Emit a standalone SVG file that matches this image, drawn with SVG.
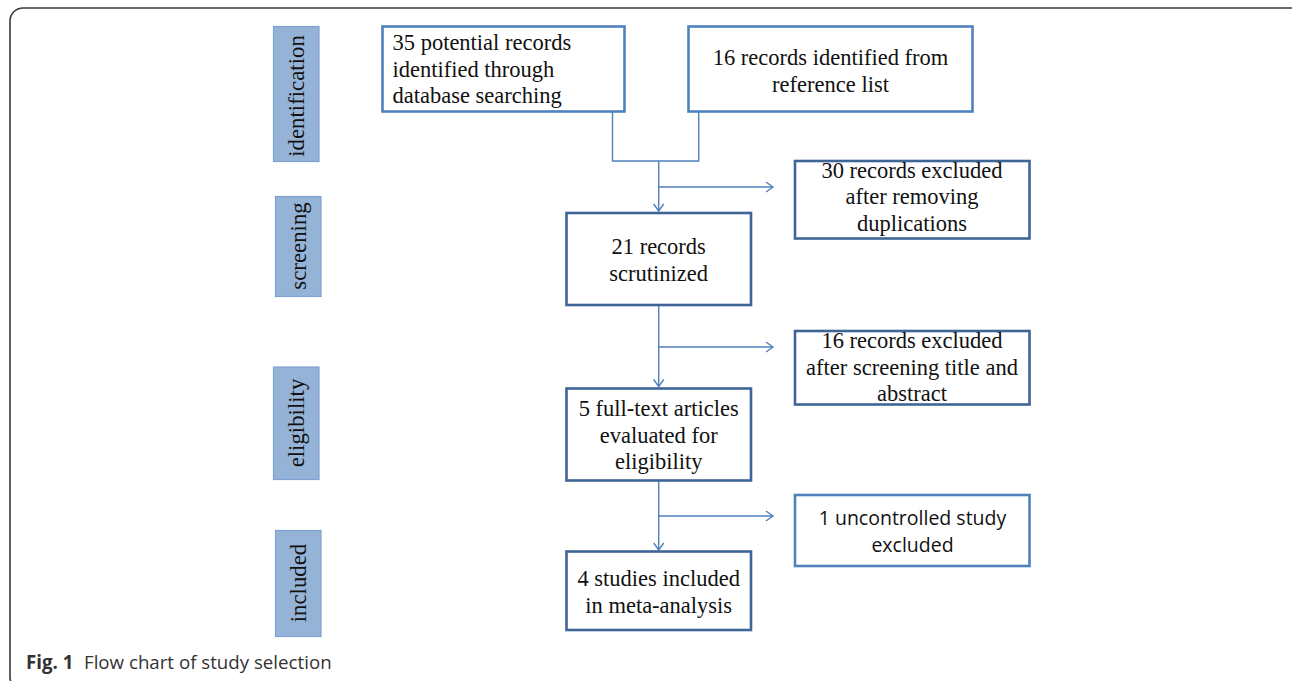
<svg xmlns="http://www.w3.org/2000/svg" width="1292" height="681" viewBox="0 0 1292 681">
<style>
.frame{fill:#fff;stroke:#3a3a3a;stroke-width:1.6}
.lab{fill:#95b3d7;stroke:#7fa2d2;stroke-width:1.2}
.labt{font-family:"Liberation Serif",serif;font-size:22.8px;fill:#111;text-anchor:middle}
.box{fill:#fff;stroke-width:2.6}
.lite{stroke:#4f81bd}
.dark{stroke:#3f6496}
.t{font-family:"Liberation Serif",serif;font-size:22.5px;fill:#111}
.c{text-anchor:middle}
.s{font-family:"Open Sans",sans-serif;font-size:19.5px;fill:#111;text-anchor:middle}
.conn{fill:none;stroke:#4f81bd;stroke-width:1.4}
.cap{font-family:"Open Sans",sans-serif;font-size:18.7px;fill:#333}
</style>
<defs>
<marker id="arr" markerUnits="userSpaceOnUse" markerWidth="16" markerHeight="16" viewBox="-10 -8 12 16" refX="0" refY="0" orient="auto">
<path d="M-7,-5 L0,0 L-7,5" fill="none" stroke="#4f81bd" stroke-width="1.4"/>
</marker>
</defs>
<rect class="frame" x="10" y="8" width="1294" height="682" rx="13"/>

<g id="lab-identification"><rect class="lab" x="273.5" y="26.5" width="45.5" height="135"/><text class="labt" transform="translate(304,96) rotate(-90)">identification</text></g>
<g id="lab-screening"><rect class="lab" x="275.5" y="196.5" width="45.5" height="100"/><text class="labt" transform="translate(306,246) rotate(-90)">screening</text></g>
<g id="lab-eligibility"><rect class="lab" x="273.5" y="367" width="45.5" height="112.5"/><text class="labt" transform="translate(304,423) rotate(-90)">eligibility</text></g>
<g id="lab-included"><rect class="lab" x="275.5" y="530.5" width="45.5" height="106"/><text class="labt" transform="translate(306,583) rotate(-90)">included</text></g>

<g id="connectors">
<path class="conn" d="M612.5,111 V161 H698.7 V111"/>
<path class="conn" d="M658.7,161 V211" marker-end="url(#arr)"/>
<path class="conn" d="M658.7,187 H773" marker-end="url(#arr)"/>
<path class="conn" d="M658.7,305 V386.5" marker-end="url(#arr)"/>
<path class="conn" d="M658.7,347 H773" marker-end="url(#arr)"/>
<path class="conn" d="M658.7,481 V550" marker-end="url(#arr)"/>
<path class="conn" d="M658.7,516 H773" marker-end="url(#arr)"/>
</g>

<g id="n-database"><rect class="box lite" x="382.5" y="26.5" width="242" height="85"/>
<text class="t" x="392.5" y="49.5">35 potential records</text>
<text class="t" x="392.5" y="76.5">identified through</text>
<text class="t" x="392.5" y="103">database searching</text></g>

<g id="n-reference"><rect class="box lite" x="688.5" y="26.5" width="284" height="85"/>
<text class="t c" x="830.5" y="65">16 records identified from</text>
<text class="t c" x="830.5" y="91.5">reference list</text></g>

<g id="n-duplicates"><rect class="box dark" x="795" y="161" width="234.5" height="77.5"/>
<text class="t c" x="912" y="177.5">30 records excluded</text>
<text class="t c" x="912" y="204">after removing</text>
<text class="t c" x="912" y="231">duplications</text></g>

<g id="n-scrutinized"><rect class="box dark" x="566.5" y="213" width="184.5" height="92"/>
<text class="t c" x="658.7" y="254">21 records</text>
<text class="t c" x="658.7" y="280.5">scrutinized</text></g>

<g id="n-title"><rect class="box dark" x="795" y="331" width="234.5" height="73.5"/>
<text class="t c" x="912" y="347.5">16 records excluded</text>
<text class="t c" x="912" y="374.5">after screening title and</text>
<text class="t c" x="912" y="401">abstract</text></g>

<g id="n-fulltext"><rect class="box dark" x="566.5" y="388.5" width="184.5" height="92"/>
<text class="t c" x="658.7" y="416">5 full-text articles</text>
<text class="t c" x="658.7" y="443">evaluated for</text>
<text class="t c" x="658.7" y="468.5">eligibility</text></g>

<g id="n-uncontrolled"><rect class="box lite" x="795" y="495" width="234.5" height="71"/>
<text class="s" x="912.5" y="525">1 uncontrolled study</text>
<text class="s" x="912.5" y="551.5">excluded</text></g>

<g id="n-included"><rect class="box dark" x="566.5" y="551.5" width="184.5" height="78.5"/>
<text class="t c" x="658.7" y="586">4 studies included</text>
<text class="t c" x="658.7" y="612.5">in meta-analysis</text></g>

<g id="caption"><text class="cap" x="26" y="669" font-weight="bold" fill="#222">Fig. 1</text><text class="cap" x="84" y="669">Flow chart of study selection</text></g>
</svg>
